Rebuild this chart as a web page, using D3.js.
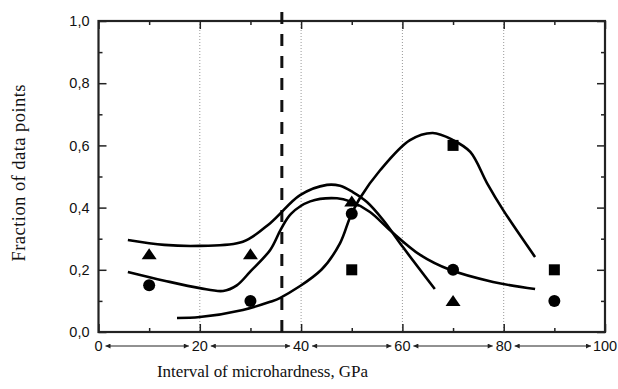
<!DOCTYPE html>
<html>
<head>
<meta charset="utf-8">
<script src="https://cdn.jsdelivr.net/npm/d3@7"></script>
<style>
  body { margin: 0; background: #fff; }
  svg { display: block; }
  .tick text { font-family: "Liberation Sans", Arial, sans-serif; font-size: 14.5px; fill: #111; }
  .axis-title { font-family: "Liberation Serif", "Times New Roman", serif; font-size: 17px; fill: #111; }
</style>
</head>
<body>
<svg id="chart"></svg>
<script>
// tick labels
const xTicks = [0, 20, 40, 60, 80, 100];
const yTicks = [0, 0.2, 0.4, 0.6, 0.8, 1.0];
const gridX = [20, 40, 60, 80];
const cutoff = 36.2;

// measured points
const triangleX = [10, 30, 50, 70];
const triangleY = [0.25, 0.25, 0.42, 0.10];
const circleX = [10, 30, 50, 70, 90];
const circleY = [0.15, 0.10, 0.38, 0.20, 0.10];
const squareX = [50, 70, 90];
const squareY = [0.20, 0.60, 0.20];

// hand drawn fit curves
const curveAX = [5.8, 13, 20, 28.5, 33.9, 39.8, 45.1, 47.7, 50.2, 53, 56.2, 60.1, 66.4];
const curveAY = [0.296, 0.28, 0.277, 0.29, 0.35, 0.44, 0.473, 0.47, 0.45, 0.418, 0.36, 0.273, 0.138];
const curveBX = [5.8, 13, 20, 24.6, 27.3, 30, 33.9, 36, 38, 41.8, 47.1, 49.7, 53.6, 57.5, 63.5, 69.4, 77.9, 86.2];
const curveBY = [0.193, 0.165, 0.141, 0.132, 0.15, 0.195, 0.264, 0.33, 0.38, 0.42, 0.43, 0.42, 0.386, 0.328, 0.248, 0.20, 0.161, 0.138];
const curveCX = [15.5, 20, 28.5, 33.9, 35.8, 44, 47.7, 49.7, 51.6, 55.6, 61.5, 66, 70, 73.4, 76.7, 79.9, 86.2];
const curveCY = [0.045, 0.048, 0.071, 0.097, 0.109, 0.2, 0.286, 0.37, 0.43, 0.52, 0.617, 0.64, 0.617, 0.579, 0.479, 0.392, 0.241];

const width = 618, height = 389;
const mLeft = 98.5, mRight = 605, mTop = 21, mBottom = 332;

const svg = d3.select('#chart')
    .attr('width', width)
    .attr('height', height);

const x = d3.scaleLinear().domain([0, 100]).range([mLeft, mRight]);
const y = d3.scaleLinear().domain([0, 1]).range([mBottom, mTop]);

const fmt = d => d3.format('.1f')(d).replace('.', ',');
const minorX = d3.range(0, 101, 10).filter(d => d % 20 !== 0);
const minorY = [0.1, 0.3, 0.5, 0.7, 0.9];

// dotted grid
svg.append('g')
    .selectAll('line')
    .data(gridX)
    .enter()
    .append('line')
    .attr('x1', d => x(d)).attr('x2', d => x(d))
    .attr('y1', mTop).attr('y2', mBottom)
    .attr('stroke', '#999')
    .attr('stroke-width', 1)
    .attr('stroke-dasharray', '1,2');

// axes, ticks inward
function axis(gen, tr, values, size, labels) {
    const g = svg.append('g')
        .attr('transform', tr)
        .call(gen.tickValues(values).tickSize(size).tickPadding(8)
            .tickFormat(labels ? fmt : ''));
    g.select('.domain').remove();
    g.selectAll('.tick line').attr('stroke', '#222').attr('stroke-width', 1.5);
    return g;
}
axis(d3.axisBottom(x), `translate(0,${mBottom})`, xTicks, -8, false);
axis(d3.axisBottom(x), `translate(0,${mBottom})`, minorX, -4, false);
axis(d3.axisTop(x), `translate(0,${mTop})`, xTicks, -8, false);
axis(d3.axisTop(x), `translate(0,${mTop})`, minorX, -4, false);
axis(d3.axisLeft(y), `translate(${mLeft},0)`, yTicks, -8, true)
    .selectAll('.tick text').attr('x', -9);
axis(d3.axisLeft(y), `translate(${mLeft},0)`, minorY, -4, false);
axis(d3.axisRight(y), `translate(${mRight},0)`, yTicks, -8, false);
axis(d3.axisRight(y), `translate(${mRight},0)`, minorY, -4, false);

// frame
svg.append('rect')
    .attr('x', mLeft).attr('y', mTop)
    .attr('width', mRight - mLeft).attr('height', mBottom - mTop)
    .attr('fill', 'none')
    .attr('stroke', '#222')
    .attr('stroke-width', 2.2);

// bottom labels with double arrows
const defs = svg.append('defs');
defs.append('marker')
    .attr('id', 'ah')
    .attr('viewBox', '0 0 10 10')
    .attr('refX', 10).attr('refY', 5)
    .attr('markerWidth', 7).attr('markerHeight', 5)
    .attr('markerUnits', 'userSpaceOnUse')
    .attr('orient', 'auto-start-reverse')
    .append('path')
    .attr('d', 'M0,0L10,5L0,10Z')
    .attr('fill', '#222');

const labY = 346;
svg.append('g')
    .selectAll('text')
    .data(xTicks)
    .enter()
    .append('text')
    .attr('x', d => x(d))
    .attr('y', labY)
    .attr('dy', '0.35em')
    .attr('text-anchor', 'middle')
    .style('font-family', '"Liberation Sans", Arial, sans-serif')
    .style('font-size', '14.5px')
    .attr('fill', '#111')
    .text(d => d);

const pairs = d3.pairs(xTicks);
svg.append('g')
    .selectAll('line')
    .data(pairs)
    .enter()
    .append('line')
    .attr('x1', d => x(d[0]) + (d[0] === 0 ? 7 : 11))
    .attr('x2', d => x(d[1]) - (d[1] === 100 ? 14 : 11))
    .attr('y1', labY).attr('y2', labY)
    .attr('stroke', '#222')
    .attr('stroke-width', 1)
    .attr('marker-start', 'url(#ah)')
    .attr('marker-end', 'url(#ah)');

// cutoff dashed line
svg.append('line')
    .attr('x1', x(cutoff)).attr('x2', x(cutoff))
    .attr('y1', 12).attr('y2', mBottom)
    .attr('stroke', '#111')
    .attr('stroke-width', 3)
    .attr('stroke-dasharray', '12,10');

// fit curves
const line = d3.line()
    .x(d => x(d[0]))
    .y(d => y(d[1]))
    .curve(d3.curveCatmullRom.alpha(0.5));

[[curveAX, curveAY], [curveBX, curveBY], [curveCX, curveCY]].forEach(function(c) {
    svg.append('path')
        .datum(d3.zip(c[0], c[1]))
        .attr('d', line)
        .attr('fill', 'none')
        .attr('stroke', '#000')
        .attr('stroke-width', 2.6);
});

// markers
svg.append('g')
    .selectAll('path')
    .data(d3.zip(triangleX, triangleY))
    .enter()
    .append('path')
    .attr('transform', d => `translate(${x(d[0])},${y(d[1])})`)
    .attr('d', 'M0,-6L7.5,5L-7.5,5Z')
    .attr('fill', '#000');

svg.append('g')
    .selectAll('circle')
    .data(d3.zip(circleX, circleY))
    .enter()
    .append('circle')
    .attr('cx', d => x(d[0]))
    .attr('cy', d => y(d[1]))
    .attr('r', 6)
    .attr('fill', '#000');

svg.append('g')
    .selectAll('rect')
    .data(d3.zip(squareX, squareY))
    .enter()
    .append('rect')
    .attr('x', d => x(d[0]) - 5.5)
    .attr('y', d => y(d[1]) - 5.5)
    .attr('width', 11)
    .attr('height', 11)
    .attr('fill', '#000');

// titles
svg.append('text')
    .attr('class', 'axis-title')
    .attr('x', 157)
    .attr('y', 377)
    .attr('textLength', 211)
    .text('Interval of microhardness, GPa');

svg.append('text')
    .attr('class', 'axis-title')
    .attr('transform', 'translate(25,173) rotate(-90)')
    .attr('text-anchor', 'middle')
    .style('font-size', '18.5px')
    .attr('textLength', 177)
    .text('Fraction of data points');
</script>
</body>
</html>
